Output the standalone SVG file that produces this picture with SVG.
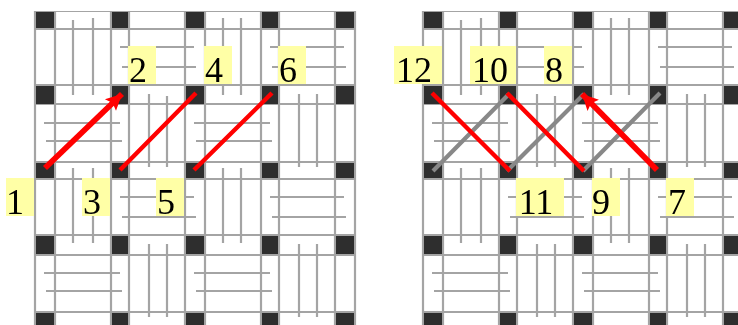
<svg xmlns="http://www.w3.org/2000/svg" width="738" height="325" viewBox="0 0 738 325">
<style>
.g{fill:none;stroke:#a4a4a4;stroke-width:2.2}
.s{fill:#2e2e2e}
.lb{fill:#ffffa6}
.t{font-family:"Liberation Serif","Times New Roman",serif;font-size:36px;fill:#000;text-anchor:middle}
.r{fill:none;stroke:#f00;stroke-width:4.4}
.rt{fill:none;stroke:#f00;stroke-width:5.8;marker-end:url(#ah)}
.y{fill:none;stroke:#888;stroke-width:4.2}
</style>
<defs>
<marker id="ah" markerUnits="userSpaceOnUse" markerWidth="20" markerHeight="20" viewBox="0 0 20 20" refX="18" refY="10" orient="auto">
<path d="M18 10L2 2L5 10L2 18Z" fill="#f00"/>
</marker>
<filter id="soft" x="0" y="0" width="100%" height="100%"><feGaussianBlur stdDeviation="0.55"/></filter>
<g id="grid">
<path class="g" d="M35 11V325M55 11V325M111 11V325M129 11V325M185 11V325M205 11V325M261 11V325M279 11V325M335 11V325M355 11V325M35 11H355M35 29H355M35 85H355M35 104H355M35 162H355M35 179H355M35 235H355M35 255H355M35 312H355"/>
<path class="g" d="M73 20V95M93 18V95M223 18V95M241 18V95M149 94V167M167 96V167M299 94V167M317 94V167M73 168V243M93 168V243M223 168V243M241 168V243M149 244V317M167 244V317M299 244V317M317 244V317"/>
<path class="g" d="M120 47H194M122 67H196M270 47H344M272 67H346M44 123H120M46 141H122M194 123H270M196 141H272M120 197H194M122 217H196M270 197H344M272 217H346M44 273H120M46 291H122M194 273H270M196 291H272"/>
<path class="s" d="M36 12H54V28H36ZM112 12H128V28H112ZM186 12H204V28H186ZM262 12H278V28H262ZM336 12H354V28H336ZM36 86H54V104H36ZM112 86H128V104H112ZM186 86H204V104H186ZM262 86H278V104H262ZM336 86H354V104H336ZM36 163H54V178H36ZM112 163H128V178H112ZM186 163H204V178H186ZM262 163H278V178H262ZM336 163H354V178H336ZM36 236H54V254H36ZM112 236H128V254H112ZM186 236H204V254H186ZM262 236H278V254H262ZM336 236H354V254H336ZM36 313H54V325H36ZM112 313H128V325H112ZM186 313H204V325H186ZM262 313H278V325H262ZM336 313H354V325H336Z"/>
</g>
</defs>
<g filter="url(#soft)">
<g id="grids">
<use href="#grid"/>
<use href="#grid" x="388"/>
</g>
<g id="connectors">
<path class="y" d="M433 171L509 94M507 171L584 94M583 171L660 93"/>
<path class="r" d="M120 170L196 93M194 170L272 93M432 93L510 171M507 93L584 171"/>
<path class="rt" d="M45 168L122 94"/>
<path class="rt" d="M657 170L582 94"/>
</g>
<g id="n1"><rect class="lb" x="6" y="178" width="28" height="38"/><text class="t" x="15" y="214">1</text></g>
<g id="n2"><rect class="lb" x="128" y="46" width="28" height="38"/><text class="t" x="138" y="82">2</text></g>
<g id="n3"><rect class="lb" x="82" y="178" width="28" height="38"/><text class="t" x="92" y="214">3</text></g>
<g id="n4"><rect class="lb" x="204" y="46" width="28" height="38"/><text class="t" x="214" y="82">4</text></g>
<g id="n5"><rect class="lb" x="156" y="178" width="28" height="38"/><text class="t" x="166" y="214">5</text></g>
<g id="n6"><rect class="lb" x="278" y="46" width="28" height="38"/><text class="t" x="288" y="82">6</text></g>
<g id="n7"><rect class="lb" x="666" y="178" width="28" height="38"/><text class="t" x="677" y="214">7</text></g>
<g id="n8"><rect class="lb" x="544" y="46" width="28" height="38"/><text class="t" x="554" y="82">8</text></g>
<g id="n9"><rect class="lb" x="592" y="178" width="28" height="38"/><text class="t" x="601" y="214">9</text></g>
<g id="n10"><rect class="lb" x="470" y="46" width="46" height="38"/><text class="t" x="490" y="82">10</text></g>
<g id="n11"><rect class="lb" x="516" y="178" width="48" height="38"/><text class="t" x="536" y="214">11</text></g>
<g id="n12"><rect class="lb" x="394" y="46" width="48" height="38"/><text class="t" x="414" y="82">12</text></g>
</g>
</svg>
